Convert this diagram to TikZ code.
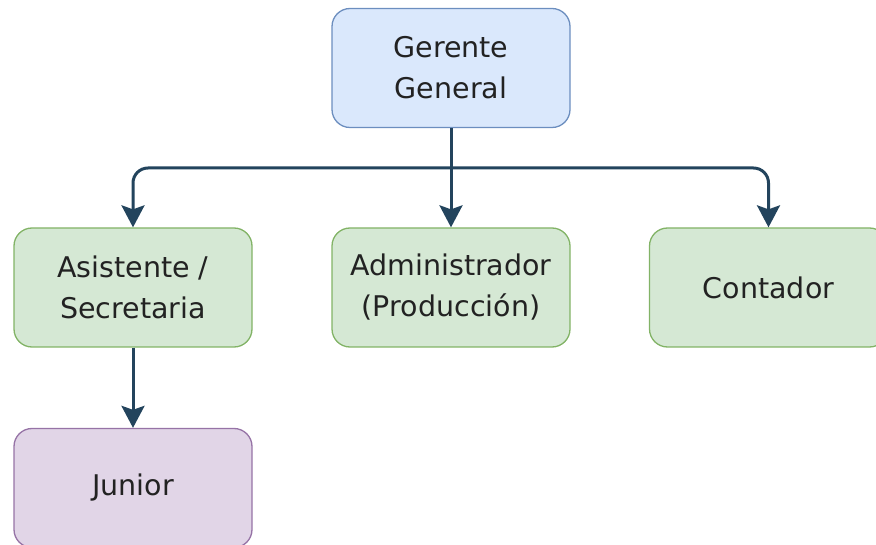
\documentclass[tikz,border=0pt]{standalone}
\usepackage{fontspec}
\setmainfont{DejaVu Sans}
\usepackage{tikz}
\usetikzlibrary{arrows.meta}
\definecolor{bluefill}{HTML}{DAE8FC}
\definecolor{bluedraw}{HTML}{6C8EBF}
\definecolor{greenfill}{HTML}{D5E8D4}
\definecolor{greendraw}{HTML}{82B366}
\definecolor{purplefill}{HTML}{E1D5E7}
\definecolor{purpledraw}{HTML}{9673A6}
\definecolor{linecol}{HTML}{23445D}
\definecolor{textcol}{HTML}{222222}
\begin{document}
\begin{tikzpicture}[x=1pt,y=-1pt,
				main node/.style={rectangle,rounded corners=18pt,draw,line width=1.3pt,
					minimum width=238pt,minimum height=119pt,align=center,
					text=textcol,font=\fontsize{28.5}{41}\selectfont},
				blue node/.style={main node,fill=bluefill,draw=bluedraw},
				green node/.style={main node,fill=greenfill,draw=greendraw},
				purple node/.style={main node,fill=purplefill,draw=purpledraw},
				link/.style={draw=linecol,line width=3pt,rounded corners=15pt,
					-{Stealth[length=22pt,width=23pt,inset=4pt]}}]
				\clip (0,0) rectangle (876,545);
				
				\node[blue node] (G) at (451,68) {Gerente\\General};
				\node[green node] (A) at (133,287.5) {Asistente /\\Secretaria};
				\node[green node] (P) at (451,287.5) {Administrador\\(Producción)};
				\node[green node] (C) at (768.5,287.5) {Contador};
				\node[purple node] (J) at (133,488) {Junior};
				\coordinate (T) at (451,168);
				
				\path[link] (G.south) -- (P.north);
				\path[link] (T) -| (A.north);
				\path[link] (T) -| (C.north);
				\path[link] (A.south) -- (J.north);
			\end{tikzpicture}
\end{document}
